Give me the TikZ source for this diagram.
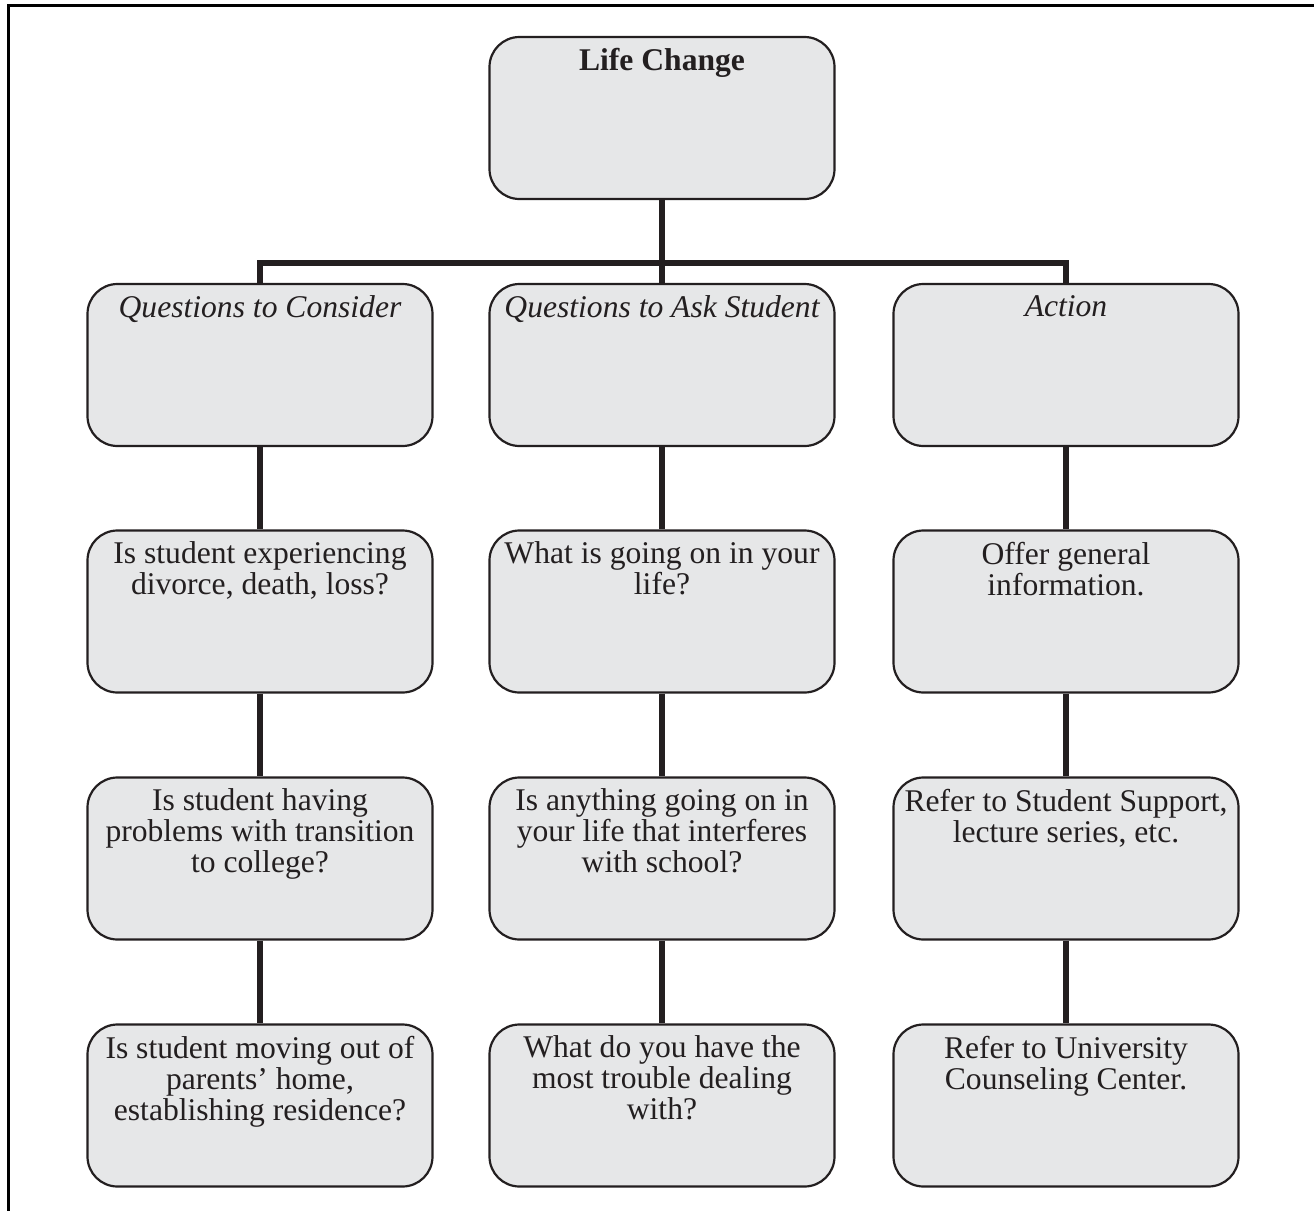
\documentclass[tikz,border=0pt]{standalone}
\usepackage{fontspec}
\setmainfont{Liberation Serif}
\usepackage{xcolor}
\usetikzlibrary{positioning}
\definecolor{boxgray}{HTML}{E6E7E8}
\definecolor{inkdark}{HTML}{231F20}

\begin{document}
\begin{tikzpicture}[x=0.5pt, y=-0.5pt,
    cell/.style={draw=inkdark, line width=1.1pt, fill=boxgray, rounded corners=15pt,
                 minimum width=172.5pt, minimum height=81pt, inner sep=0pt},
    celltext/.style={anchor=north, inner sep=0pt, align=center, text=inkdark,
                     font=\fontsize{15.8}{15.5}\selectfont},
    link/.style={draw=inkdark, line width=2.6pt},
    frame/.style={draw=black, line width=1.5pt}]
    \useasboundingbox (0,0) rectangle (1314,1211);

    % Outer frame (cut off at right and bottom)
    \draw[frame] (1314,5.5) -| (8.5,1211);

    % Top box
    \node[cell, minimum height=81pt] (life) at (662,118) {};
    \node[celltext] (lifet) at ([yshift=-6.2pt]life.north) {\bfseries Life Change};

    % Column boxes
    \foreach \n/\x in {con/260, ask/662, act/1066}{
        \foreach \r/\y in {1/365, 2/611.5, 3/858.5, 4/1105.5}{
            \node[cell] (\n\r) at (\x,\y) {};
        }
    }

    % Connectors
    \coordinate (bus) at (662,263);
    \draw[link] (life) -- (ask1);
    \draw[link] (con1.north) |- (bus) -| (act1.north);
    \foreach \n in {con, ask, act}{
        \foreach \r/\s in {1/2, 2/3, 3/4}{
            \draw[link] (\n\r) -- (\n\s);
        }
    }

    % Headers
    \node[celltext] (con1t) at ([yshift=-6pt]con1.north) {\itshape Questions to Consider};
    \node[celltext] (ask1t) at ([yshift=-6pt]ask1.north) {\itshape Questions to Ask Student};
    \node[celltext] (act1t) at ([yshift=-6pt]act1.north) {\itshape Action};

    % Questions to consider
    \node[celltext] (con2t) at ([yshift=-6pt]con2.north) {Is student experiencing\\divorce, death, loss?};
    \node[celltext] (con3t) at ([yshift=-6pt]con3.north) {Is student having\\problems with transition\\to college?};
    \node[celltext] (con4t) at ([yshift=-6pt]con4.north) {Is student moving out of\\parents’ home,\\establishing residence?};

    % Questions to ask student
    \node[celltext] (ask2t) at ([yshift=-6pt]ask2.north) {What is going on in your\\life?};
    \node[celltext] (ask3t) at ([yshift=-6pt]ask3.north) {Is anything going on in\\your life that interferes\\with school?};
    \node[celltext] (ask4t) at ([yshift=-6pt]ask4.north) {What do you have the\\most trouble dealing\\with?};

    % Action
    \node[celltext] (act2t) at ([yshift=-6pt]act2.north) {Offer general\\information.};
    \node[celltext] (act3t) at ([yshift=-6pt]act3.north) {Refer to Student Support,\\lecture series, etc.};
    \node[celltext] (act4t) at ([yshift=-6pt]act4.north) {Refer to University\\Counseling Center.};
\end{tikzpicture}
\end{document}
